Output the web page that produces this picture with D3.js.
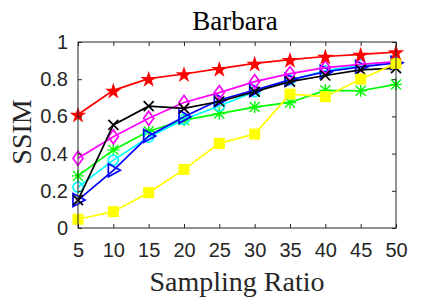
<!DOCTYPE html>
<html>
<head>
<meta charset="utf-8">
<script src="https://cdn.jsdelivr.net/npm/d3@7"></script>
<style>
  body { margin: 0; background: #fff; }
  svg { display: block; }
</style>
</head>
<body>
<svg id="chart" width="438" height="297"></svg>
<script>
// sampling ratios (x) and SSIM per method
const ratios = [5, 10, 15, 20, 25, 30, 35, 40, 45, 50];
const yTicks = [0, 0.2, 0.4, 0.6, 0.8, 1];

const greenVals   = [0.28, 0.42, 0.52, 0.58, 0.615, 0.65, 0.675, 0.74, 0.738, 0.772];
const cyanVals    = [0.22, 0.365, 0.488, 0.584, 0.656, 0.733, 0.796, 0.845, 0.878, 0.892];
const blueVals    = [0.15, 0.31, 0.495, 0.598, 0.688, 0.742, 0.796, 0.84, 0.866, 0.888];
const magentaVals = [0.375, 0.49, 0.59, 0.675, 0.728, 0.787, 0.83, 0.862, 0.88, 0.894];
const blackVals   = [0.15, 0.554, 0.655, 0.643, 0.68, 0.733, 0.787, 0.82, 0.85, 0.86];
const yellowVals  = [0.047, 0.088, 0.19, 0.315, 0.455, 0.505, 0.72, 0.706, 0.8, 0.885];
const redVals     = [0.61, 0.74, 0.803, 0.828, 0.857, 0.885, 0.905, 0.922, 0.933, 0.946];

const series = [
  { vals: greenVals,   color: "#00ff00", marker: "asterisk" },
  { vals: cyanVals,    color: "#00ffff", marker: "circle" },
  { vals: blueVals,    color: "#0000ff", marker: "triangle" },
  { vals: magentaVals, color: "#ff00ff", marker: "diamond" },
  { vals: blackVals,   color: "#000000", marker: "cross" },
  { vals: yellowVals,  color: "#ffff00", marker: "square" },
  { vals: redVals,     color: "#ff0000", marker: "star" }
];

const svg = d3.select("#chart");
const mLeft = 78, mRight = 396, mTop = 42, mBottom = 228;

const x = d3.scaleLinear().domain([5, 50]).range([mLeft, mRight]);
const y = d3.scaleLinear().domain([0, 1]).range([mBottom, mTop]);

const g = svg.append("g");

// series lines + markers
const line = d3.line().x((d, i) => x(ratios[i])).y(d => y(d));

series.forEach(s => {
  g.append("path")
    .attr("d", line(s.vals))
    .attr("fill", "none")
    .attr("stroke", s.color)
    .attr("stroke-width", 1.7);

  s.vals.forEach((v, i) => {
    const cx = x(ratios[i]), cy = y(v);
    const m = g.append("g").attr("transform", `translate(${cx},${cy})`);
    if (s.marker === "circle") {
      m.append("circle").attr("r", 5).attr("fill", "none").attr("stroke", s.color).attr("stroke-width", 1.7);
    } else if (s.marker === "triangle") {
      m.append("path").attr("d", "M-5,-6.5L7,0L-5,6.5Z").attr("fill", "none").attr("stroke", s.color).attr("stroke-width", 1.7);
    } else if (s.marker === "diamond") {
      m.append("path").attr("d", "M0,-7L5,0L0,7L-5,0Z").attr("fill", "none").attr("stroke", s.color).attr("stroke-width", 1.7);
    } else if (s.marker === "cross") {
      m.append("path").attr("d", "M-5,-5L5,5M-5,5L5,-5").attr("stroke", s.color).attr("stroke-width", 1.7);
    } else if (s.marker === "asterisk") {
      m.append("path").attr("d", "M-5,-5L5,5M-5,5L5,-5M0,-6L0,6M-6,0L6,0").attr("stroke", s.color).attr("stroke-width", 1.4);
    } else if (s.marker === "square") {
      m.append("rect").attr("x", -5.5).attr("y", -5.5).attr("width", 11).attr("height", 11).attr("fill", s.color);
    } else if (s.marker === "star") {
      m.append("path").attr("d", d3.symbol(d3.symbolStar, 85)()).attr("transform", "translate(0,1)").attr("fill", s.color);
    }
  });
});

// box and axes
g.append("rect")
  .attr("x", mLeft).attr("y", mTop)
  .attr("width", mRight - mLeft).attr("height", mBottom - mTop)
  .attr("fill", "none").attr("stroke", "#262626").attr("stroke-width", 1);

const xAxis = d3.axisBottom(x).tickValues(ratios).tickSizeInner(-4).tickSizeOuter(0).tickPadding(15);
const yAxis = d3.axisLeft(y).tickValues(yTicks).tickSizeInner(-4).tickSizeOuter(0).tickPadding(10)
  .tickFormat(d => d === 0 ? "0" : d === 1 ? "1" : d3.format(".1f")(d));

const gx = g.append("g").attr("transform", `translate(0,${mBottom})`).call(xAxis);
const gy = g.append("g").attr("transform", `translate(${mLeft},0)`).call(yAxis);
g.append("g").attr("transform", `translate(0,${mTop})`)
  .call(d3.axisTop(x).tickValues(ratios).tickSizeInner(-4).tickSizeOuter(0).tickFormat(""));
g.append("g").attr("transform", `translate(${mRight},0)`)
  .call(d3.axisRight(y).tickValues(yTicks).tickSizeInner(-4).tickSizeOuter(0).tickFormat(""));

svg.selectAll(".domain").remove();
svg.selectAll(".tick line").attr("stroke", "#262626");
[gx, gy].forEach(a => a.selectAll("text")
  .attr("font-family", "'Liberation Sans', Arial, sans-serif")
  .attr("font-size", 20)
  .attr("fill", "#262626"));

// title and labels
svg.append("text")
  .attr("x", 235).attr("y", 30)
  .attr("text-anchor", "middle")
  .attr("font-family", "'Liberation Serif', 'Times New Roman', serif")
  .attr("font-size", 27)
  .attr("fill", "#000")
  .text("Barbara");

svg.append("text")
  .attr("transform", `translate(31,132) rotate(-90)`)
  .attr("text-anchor", "middle")
  .attr("font-family", "'Liberation Serif', 'Times New Roman', serif")
  .attr("font-size", 28)
  .attr("fill", "#262626")
  .text("SSIM");

svg.append("text")
  .attr("x", 237).attr("y", 291)
  .attr("text-anchor", "middle")
  .attr("font-family", "'Liberation Serif', 'Times New Roman', serif")
  .attr("font-size", 28)
  .attr("fill", "#262626")
  .text("Sampling Ratio");
</script>
</body>
</html>
